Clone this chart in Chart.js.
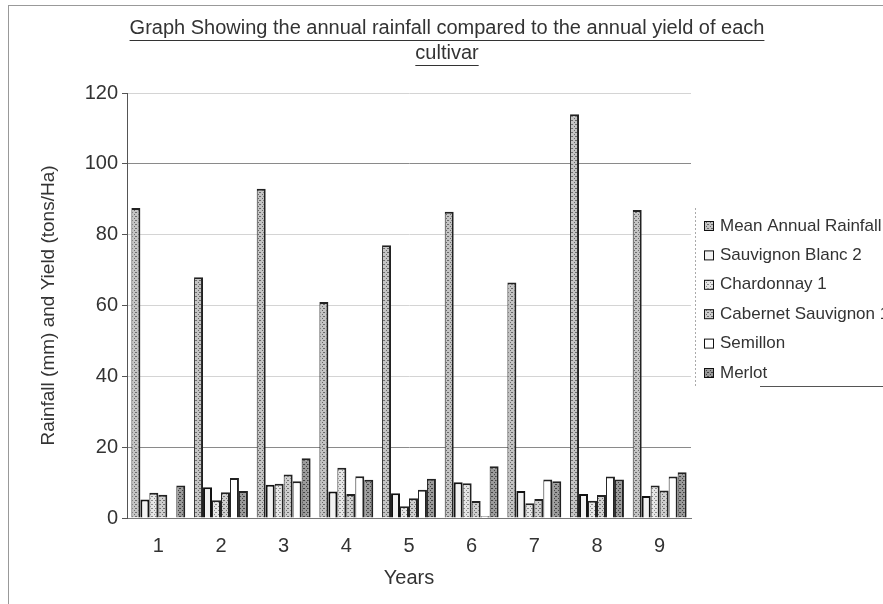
<!DOCTYPE html>
<html>
<head>
<meta charset="utf-8">
<script src="https://cdn.jsdelivr.net/npm/chart.js@4.4.0/dist/chart.umd.min.js"></script>
<style>
  html, body { margin: 0; padding: 0; background: #fff; }
  #wrap { width: 883px; height: 604px; }
</style>
</head>
<body>
<div id="wrap"><canvas id="chart1" width="883" height="604"></canvas></div>
<script>
// values
var years = ["1", "2", "3", "4", "5", "6", "7", "8", "9"];
var rainfall = [87.5, 68, 93, 61, 77, 86.5, 66.5, 114, 87];
var sauvBlanc2 = [5.2, 8.7, 9.4, 7.5, 7.0, 10.1, 7.6, 6.8, 6.2];
var chardonnay1 = [7.1, 5.0, 9.7, 14.2, 3.3, 9.8, 4.2, 4.9, 9.2];
var cabSauv1 = [6.6, 7.3, 12.3, 6.8, 5.6, 4.8, 5.4, 6.5, 7.8];
var semillon = [0, 11.3, 10.4, 11.8, 8.0, 0.5, 10.9, 11.7, 11.7];
var merlot = [9.2, 7.6, 16.9, 10.8, 11.1, 14.6, 10.4, 10.9, 12.9];
var yTicks = [0, 20, 40, 60, 80, 100, 120];
var titleLines = ["Graph Showing the annual rainfall compared to the annual yield of each", "cultivar"];

var FONT = "'Liberation Sans', Arial, sans-serif";
var TXT = "#333";

// small stipple fill, like the grey screens of the printout
function stipple(base, dot) {
	var c = document.createElement("canvas");
	c.width = 4; c.height = 4;
	var g = c.getContext("2d");
	g.fillStyle = base;
	g.fillRect(0, 0, 4, 4);
	g.fillStyle = dot;
	g.fillRect(0, 0, 1, 1);
	g.fillRect(2, 2, 1, 1);
	g.fillRect(3, 0, 1, 1);
	return g.createPattern(c, "repeat");
}

var edge = { top: 2, right: 2, bottom: 0, left: 1 };

var data1 = {
	labels: years,
	datasets: [
		{ label: "Mean Annual Rainfall", data: rainfall, backgroundColor: stipple("#c4c4c4", "#6a6a6a"), borderColor: "#222", borderWidth: edge },
		{ label: "Sauvignon Blanc 2", data: sauvBlanc2, backgroundColor: "#f2f2f2", borderColor: "#111", borderWidth: { top: 2, right: 2, bottom: 0, left: 2 } },
		{ label: "Chardonnay 1", data: chardonnay1, backgroundColor: stipple("#e6e6e6", "#8c8c8c"), borderColor: "#222", borderWidth: edge },
		{ label: "Cabernet Sauvignon 1", data: cabSauv1, backgroundColor: stipple("#cfcfcf", "#707070"), borderColor: "#222", borderWidth: edge },
		{ label: "Semillon", data: semillon, backgroundColor: "#ffffff", borderColor: "#222", borderWidth: edge },
		{ label: "Merlot", data: merlot, backgroundColor: stipple("#9a9a9a", "#444"), borderColor: "#222", borderWidth: edge }
	]
};

// frame, underlined title and the legend box on the right
var extras = {
	id: "extras",
	beforeDraw: function (chart) {
		var ctx = chart.ctx;
		ctx.save();
		ctx.fillStyle = "#fff";
		ctx.fillRect(0, 0, chart.width, chart.height);
		ctx.strokeStyle = "#999";
		ctx.lineWidth = 1;
		ctx.strokeRect(8.5, 5.5, chart.width + 20, chart.height + 20);
		ctx.restore();
	},
	afterDraw: function (chart) {
		var ctx = chart.ctx;
		ctx.save();
		// title, underlined
		ctx.font = "20px " + FONT;
		ctx.fillStyle = TXT;
		ctx.strokeStyle = TXT;
		ctx.lineWidth = 1;
		ctx.textAlign = "center";
		ctx.textBaseline = "middle";
		var cx = 447;
		titleLines.forEach(function (line, i) {
			var y = 28 + i * 25;
			ctx.fillText(line, cx, y);
			var w = ctx.measureText(line).width;
			var uy = Math.round(y + 12) + 0.5;
			ctx.beginPath();
			ctx.moveTo(cx - w / 2, uy);
			ctx.lineTo(cx + w / 2, uy);
			ctx.stroke();
		});
		// legend
		ctx.textAlign = "left";
		var lx = 695, ly = 226, step = 29.4;
		ctx.strokeStyle = "#aaa";
		ctx.setLineDash([2, 2]);
		ctx.beginPath();
		ctx.moveTo(lx + 0.5, 208);
		ctx.lineTo(lx + 0.5, 386);
		ctx.stroke();
		ctx.setLineDash([]);
		ctx.strokeStyle = "#555";
		ctx.beginPath();
		ctx.moveTo(760, 386.5);
		ctx.lineTo(chart.width, 386.5);
		ctx.stroke();
		ctx.font = "17px " + FONT;
		chart.data.datasets.forEach(function (ds, i) {
			var y = ly + i * step;
			ctx.fillStyle = ds.backgroundColor;
			ctx.fillRect(704, y - 5, 9, 9);
			ctx.strokeStyle = "#111";
			ctx.lineWidth = 1;
			ctx.strokeRect(704.5, y - 4.5, 9, 9);
			ctx.fillStyle = TXT;
			ctx.fillText(ds.label, 720, y);
		});
		ctx.restore();
	}
};

var options1 = {
	responsive: false,
	animation: false,
	layout: { padding: { top: 93, right: 192, bottom: 0, left: 30 } },
	datasets: { bar: { barPercentage: 1.0, categoryPercentage: 0.86 } },
	plugins: {
		legend: { display: false },
		tooltip: { enabled: false },
		title: { display: false }
	},
	scales: {
		x: {
			afterFit: function (s) { s.height = 86; },
			grid: { display: false, drawOnChartArea: false },
			border: { display: true, color: "#777" },
			ticks: { color: TXT, font: { family: FONT, size: 20 }, padding: 8 },
			title: { display: true, text: "Years", color: TXT, font: { family: FONT, size: 20, lineHeight: 1.2 }, padding: { top: 0, bottom: 14 } }
		},
		y: {
			min: 0,
			max: 120,
			afterFit: function (s) { s.width = 97; },
			afterBuildTicks: function (s) { s.ticks = yTicks.map(function (v) { return { value: v }; }); },
			border: { display: true, color: "#555" },
			grid: {
				color: function (c) {
					var v = c.tick ? c.tick.value : 0;
					return (v === 20 || v === 100) ? "#8a8a8a" : "#d4d4d4";
				},
				tickColor: "#555",
				tickLength: 5
			},
			ticks: { color: TXT, font: { family: FONT, size: 20 }, padding: 4 },
			title: { display: true, text: "Rainfall (mm) and Yield (tons/Ha)", color: TXT, font: { family: FONT, size: 19, lineHeight: 1.2 }, padding: { top: 7, bottom: 0 } }
		}
	}
};

var chart1 = new Chart(document.getElementById("chart1"), {
	type: "bar",
	data: data1,
	options: options1,
	plugins: [extras]
});
</script>
</body>
</html>
